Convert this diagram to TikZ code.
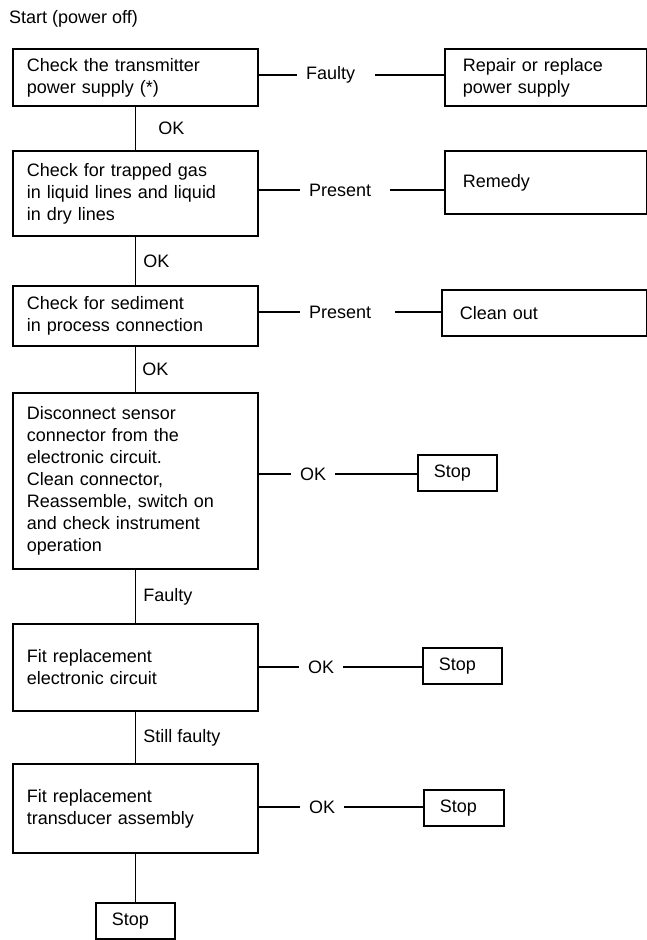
\documentclass[tikz,border=0pt]{standalone}
\usepackage{fontspec}
\setmainfont{Liberation Sans}
\tikzset{
  stepbox/.style 2 args={draw,line width=1.9pt,anchor=north west,align=left,inner xsep=14pt,inner ysep=0pt,text width=#1,minimum height=#2},
  stopbox/.style={draw,line width=1.9pt,anchor=north west,align=left,inner xsep=16pt,inner ysep=0pt,text width=47pt,minimum height=36pt},
  link/.style={line width=1.9pt},
  tag/.style={anchor=west,inner xsep=9pt,inner ysep=0pt},
  vtag/.style={inner sep=0pt},
}
\begin{document}
\begin{tikzpicture}[x=1pt,y=-1pt,font=\fontsize{18}{22}\selectfont]
\useasboundingbox (0,0) rectangle (647,940);
%start
\node[anchor=base west,inner sep=0pt] (start) at (9,23) {Start (power off)};
%main column
\node[stepbox={217pt}{57pt}] (psu) at (12,48) {Check the transmitter\\power supply (*)};
\node[stepbox={217pt}{85pt}] (gas) at (12,150) {Check for trapped gas\\in liquid lines and liquid\\in dry lines};
\node[stepbox={217pt}{60pt}] (sed) at (12,285) {Check for sediment\\in process connection};
\node[stepbox={217pt}{176pt}] (conn) at (12,392) {Disconnect sensor\\connector from the\\electronic circuit.\\Clean connector,\\Reassemble, switch on\\and check instrument\\operation};
\node[stepbox={217pt}{87pt}] (circ) at (12,623) {Fit replacement\\electronic circuit};
\node[stepbox={217pt}{89pt}] (trans) at (12,763) {Fit replacement\\transducer assembly};
\node[stopbox] (stopd) at (95,902) {Stop};
%right column
\node[stepbox={166pt}{57pt},inner xsep=18pt] (repair) at (444,48) {Repair or replace\\power supply};
\node[stepbox={166pt}{63pt},inner xsep=18pt] (remedy) at (444,150) {Remedy};
\node[stepbox={169pt}{46pt},inner xsep=18pt] (clean) at (441,289) {Clean out};
\node[stopbox] (stopa) at (417,454) {Stop};
\node[stopbox] (stopb) at (422,647) {Stop};
\node[stopbox,text width=48pt] (stopc) at (423,789) {Stop};
%down links
\draw[link] (psu.south) -- node[vtag,right=22pt]{OK} (gas.north);
\draw[link] (gas.south) -- node[vtag,right=7pt]{OK} (sed.north);
\draw[link] (sed.south) -- node[vtag,right=6pt]{OK} (conn.north);
\draw[link] (conn.south) -- node[vtag,right=7pt]{Faulty} (circ.north);
\draw[link] (circ.south) -- node[vtag,right=7pt]{Still faulty} (trans.north);
\draw[link] (trans.south) -- (stopd.north);
%side links
\node[tag] (faulty) at (297,75) {Faulty};
\node[tag] (presa) at (300,190) {Present};
\node[tag] (presb) at (300,312) {Present};
\node[tag] (oka) at (291,474) {OK};
\node[tag] (okb) at (299,667) {OK};
\node[tag] (okc) at (300,807) {OK};
\draw[link] (faulty.west -| psu.east) -- (faulty.west);
\draw[link,shorten <=11pt] (faulty.east) -- (faulty.east -| repair.west);
\draw[link] (presa.west -| gas.east) -- (presa.west);
\draw[link,shorten <=10pt] (presa.east) -- (presa.east -| remedy.west);
\draw[link] (presb.west -| sed.east) -- (presb.west);
\draw[link,shorten <=15pt] (presb.east) -- (presb.east -| clean.west);
\draw[link] (oka.west -| conn.east) -- (oka.west);
\draw[link] (oka.east) -- (oka.east -| stopa.west);
\draw[link] (okb.west -| circ.east) -- (okb.west);
\draw[link] (okb.east) -- (okb.east -| stopb.west);
\draw[link] (okc.west -| trans.east) -- (okc.west);
\draw[link] (okc.east) -- (okc.east -| stopc.west);
\end{tikzpicture}
\end{document}
